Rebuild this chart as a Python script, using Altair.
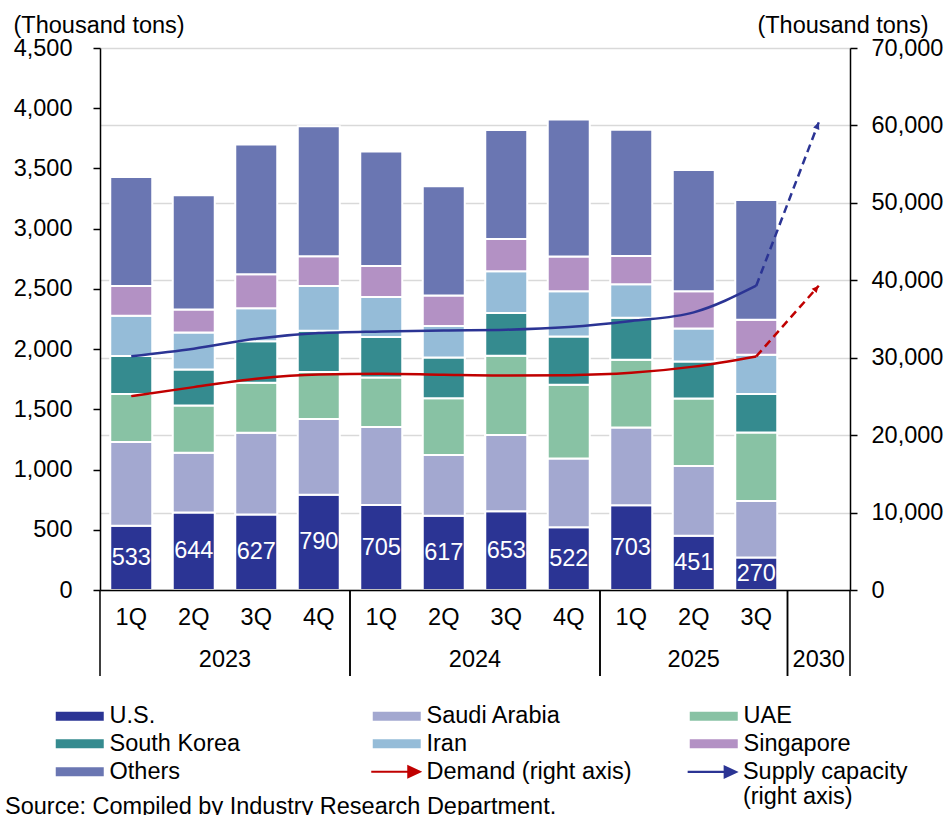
import altair as alt
import pandas as pd

FONT = "Liberation Sans"
FONT_SIZE = 23.5

# Quarterly imports by origin (thousand tons)
years = ["2023", "2023", "2023", "2023", "2024", "2024", "2024", "2024", "2025", "2025", "2025"]
quarters = ["1Q", "2Q", "3Q", "4Q", "1Q", "2Q", "3Q", "4Q", "1Q", "2Q", "3Q"]
us = [533, 644, 627, 790, 705, 617, 653, 522, 703, 451, 270]
saudi_arabia = [695, 495, 678, 629, 648, 503, 633, 570, 646, 578, 469]
uae = [399, 393, 415, 390, 411, 473, 658, 612, 562, 561, 569]
south_korea = [315, 299, 346, 343, 336, 337, 355, 401, 349, 307, 319]
iran = [334, 307, 274, 371, 332, 261, 348, 376, 279, 274, 326]
singapore = [247, 191, 282, 249, 257, 254, 268, 288, 235, 310, 290]
others = [907, 949, 1076, 1079, 951, 908, 905, 1137, 1048, 1007, 994]

# Demand and supply capacity (thousand tons, right axis)
demand = [25040, 26200, 27290, 27840, 27930, 27800, 27710, 27750, 28050, 28850, 30170]
supply = [30200, 31170, 32460, 33180, 33400, 33530, 33620, 33960, 34740, 35860, 39300]
outlook_year = "2030"
demand_outlook = 39300
supply_outlook = 60400

source_note = "Source: Compiled by Industry Research Department."

country_names = ["U.S.", "Saudi Arabia", "UAE", "South Korea", "Iran", "Singapore", "Others"]
country_values = [us, saudi_arabia, uae, south_korea, iran, singapore, others]
line_names = ["Demand (right axis)", "Supply capacity\n(right axis)"]
line_values = [demand, supply]
outlook_values = [demand_outlook, supply_outlook]
series_names = country_names + line_names
series_colors = ["#2B3494", "#A3A8D0", "#88C2A4", "#358B8F", "#95BCD8",
                 "#B391C4", "#6A76B2", "#C00000", "#2B3494"]
arrow_angles = [42, 21]

# legend glyphs: flat bar swatch and arrow
bar_symbol = "M-2.4,-0.45H2.4V0.45H-2.4Z"
arrow_symbol = "M-2.55,-0.11H1.05V-0.7L2.55,0L1.05,0.7V0.11H-2.55Z"
legend_shapes = [bar_symbol] * len(country_names) + [arrow_symbol] * len(line_names)
arrow_head = "M0,0L-0.55,1.15L0.55,1.15Z"

# ---- tables ----
period_years = years + [outlook_year]
period_quarters = quarters + [""]
periods = pd.DataFrame({"idx": list(range(len(period_years))),
                        "year": period_years, "quarter": period_quarters})

bar_rows = []
for rank, (name, vals) in enumerate(zip(country_names, country_values)):
    for i, v in enumerate(vals):
        bar_rows.append({"idx": i, "series": name, "rank": rank, "tons": v})
bars_df = pd.DataFrame(bar_rows)

line_rows, ext_rows = [], []
for name, vals, target in zip(line_names, line_values, outlook_values):
    for i, v in enumerate(vals):
        line_rows.append({"idx": i, "series": name, "tons": v})
    n = len(vals)
    ext_rows.append({"idx": n - 1, "series": name, "tons": vals[-1], "end": False})
    ext_rows.append({"idx": n, "series": name, "tons": target, "end": True})
lines_df = pd.DataFrame(line_rows)
ext_df = pd.DataFrame(ext_rows)

W, H = 750, 542
x_scale = alt.Scale(domain=[0, len(period_years)], nice=False, zero=False, padding=0)
left_scale = alt.Scale(domain=[0, 4500], nice=False)
right_scale = alt.Scale(domain=[0, 70000], nice=False)
POS = "datum.idx + 0.5"
THOUSANDS = "format(datum.value, ',')"

x_axis = alt.Axis(labels=False, ticks=False, grid=False, domainColor="black",
                  domainWidth=1.5, title=None, zindex=1)
left_axis = alt.Axis(
    values=list(range(0, 4501, 500)), labelExpr=THOUSANDS, grid=False,
    domainColor="black", domainWidth=1.5, tickColor="black", tickWidth=1.5,
    tickSize=7, labelPadding=21, labelFontSize=FONT_SIZE, labelColor="black",
    title="(Thousand tons)", titleAngle=0, titleAlign="left",
    titleBaseline="alphabetic", titleX=-87, titleY=-16,
    titleFontSize=FONT_SIZE, titleFontWeight="normal", titleColor="black", zindex=1,
)
right_axis = alt.Axis(
    orient="right", values=list(range(0, 70001, 10000)), labelExpr=THOUSANDS,
    grid=True, gridColor="#D9D9D9", gridWidth=1.5,
    domainColor="black", domainWidth=1.5, tickColor="black", tickWidth=1.5,
    tickSize=7, labelPadding=14, labelFontSize=FONT_SIZE, labelColor="black",
    title="(Thousand tons)", titleAngle=0, titleAlign="right",
    titleBaseline="alphabetic", titleX=78, titleY=-16,
    titleFontSize=FONT_SIZE, titleFontWeight="normal", titleColor="black",
)


def xq(field="pos"):
    return alt.X(f"{field}:Q", scale=x_scale, axis=x_axis)


def yl(field):
    return alt.Y(f"{field}:Q", scale=left_scale, axis=left_axis)


def yr(field):
    return alt.Y(f"{field}:Q", scale=right_scale, axis=right_axis)


def series_color(names, colors, legend=None):
    return alt.Color("series:N", scale=alt.Scale(domain=names, range=colors), legend=legend)


# ---- stacked bars (left axis) ----
bars = alt.Chart(bars_df).transform_calculate(pos=POS).mark_bar(
    orient="vertical", size=42, stroke="white", strokeWidth=2
).encode(
    x=xq(),
    y=alt.Y("tons:Q", stack="zero", scale=left_scale, axis=left_axis),
    color=series_color(series_names, series_colors),
    order=alt.Order("rank:Q", sort="ascending"),
)

us_labels = alt.Chart(bars_df).transform_filter(
    alt.datum.series == country_names[0]
).transform_calculate(pos=POS, mid="datum.tons / 2").mark_text(
    color="white", fontSize=FONT_SIZE, baseline="middle"
).encode(x=xq(), y=yl("mid"), text=alt.Text("tons:Q"))

left_group = alt.layer(bars, us_labels)

# ---- demand / supply lines (right axis) ----
ext_lines = alt.Chart(ext_df).transform_calculate(pos=POS).mark_line(
    strokeWidth=2.5, strokeDash=[8, 5]
).encode(x=xq(), y=yr("tons"), color=series_color(series_names, series_colors))

solid_lines = alt.Chart(lines_df).transform_calculate(pos=POS).mark_line(
    interpolate="monotone", strokeWidth=2.5
).encode(x=xq(), y=yr("tons"), color=series_color(series_names, series_colors))

heads = []
for name, angle in zip(line_names, arrow_angles):
    heads.append(
        alt.Chart(ext_df).transform_filter(alt.datum.end & (alt.datum.series == name))
        .transform_calculate(pos=POS)
        .mark_point(shape=arrow_head, size=144, filled=True, opacity=1, angle=angle)
        .encode(x=xq(), y=yr("tons"), color=series_color(series_names, series_colors))
    )

right_group = alt.layer(ext_lines, solid_lines, *heads)

# ---- two-level category axis ----
quarter_text = alt.Chart(periods).transform_filter("datum.quarter != ''").transform_calculate(
    pos=POS
).mark_text(fontSize=FONT_SIZE, color="black", baseline="middle").encode(
    x=xq(), y=alt.value(H + 28), text="quarter:N"
)

year_text = alt.Chart(periods).transform_calculate(pos=POS).transform_aggregate(
    center="mean(pos)", groupby=["year"]
).mark_text(fontSize=FONT_SIZE, color="black", baseline="middle").encode(
    x=xq("center"), y=alt.value(H + 70), text="year:N"
)

separators = alt.Chart(periods).transform_aggregate(
    first="min(idx)", last="max(idx)", groupby=["year"]
).transform_calculate(start="datum.first", end="datum.last + 1").transform_fold(
    ["start", "end"], as_=["edge", "at"]
).mark_rule(color="black", strokeWidth=1.5).encode(
    x=xq("at"), y=alt.value(H), y2=alt.value(H + 86)
)

# ---- legend: 3-column grid; the two-line entry sits in its own block ----
LEG_X, LEG_Y, COL_STEP, ROW_STEP = -32, 656, 316.7, 28


def legend_block(names, colors, shapes, x, y):
    leg = alt.Legend(
        title=None, orient="none", legendX=x, legendY=y, columns=3,
        direction="horizontal", gridAlign="all", columnPadding=56, rowPadding=3,
        symbolSize=400, symbolStrokeWidth=0, symbolOpacity=1,
        labelFontSize=FONT_SIZE, labelColor="black", labelLimit=400, labelOffset=18,
        labelExpr="split(datum.label, '\\n')",
    )
    return alt.Chart(pd.DataFrame({"series": names})).transform_filter("false").mark_point(
        filled=True, size=400
    ).encode(
        color=series_color(names, colors, leg),
        shape=alt.Shape("series:N", scale=alt.Scale(domain=names, range=shapes), legend=leg),
    )


legend_main = legend_block(series_names[:-1], series_colors[:-1], legend_shapes[:-1], LEG_X, LEG_Y)
legend_last = legend_block(series_names[-1:], series_colors[-1:], legend_shapes[-1:],
                           LEG_X + 2 * COL_STEP, LEG_Y + 2 * ROW_STEP)

note = alt.Chart(pd.DataFrame({"note": [source_note]})).mark_text(
    align="left", baseline="alphabetic", fontSize=FONT_SIZE, color="black"
).encode(x=alt.value(-95), y=alt.value(766), text="note:N")

chart = alt.layer(
    left_group, right_group, quarter_text, year_text, separators,
    legend_main, legend_last, note
).resolve_scale(
    y="independent", color="independent", shape="independent"
).resolve_legend(
    color="independent", shape="independent"
).properties(
    width=W, height=H, autosize="none",
    padding={"left": 100, "top": 48, "right": 98, "bottom": 225},
).configure(font=FONT).configure_view(stroke=None)

chart.save("out.html", embed_options={"renderer": "svg", "actions": False})
